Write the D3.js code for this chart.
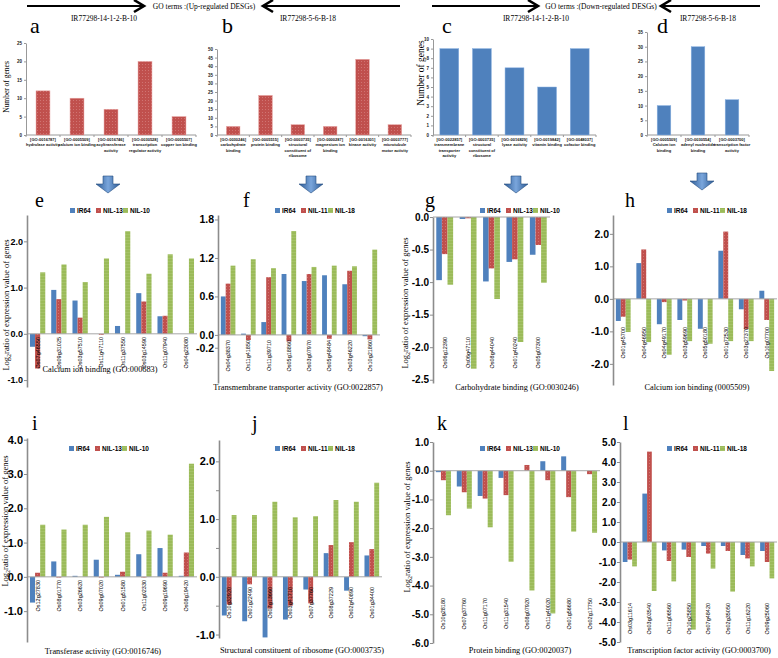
<!DOCTYPE html>
<html>
<head>
<meta charset="utf-8">
<script src="https://cdn.jsdelivr.net/npm/d3@7"></script>
<style>
  body { margin: 0; background: #fff; }
</style>
</head>
<body>
<div id="chart"></div>
<script>
// ---- GO term counts (top row) ----
const aTerms = ["[GO:0016787]|hydrolase activity", "[GO:0005509]|calcium ion binding", "[GO:0016746]|acyltransferase|activity", "[GO:0030528]|transcription|regulator activity", "[GO:0005507]|copper ion binding"];
const aCounts = [12, 10, 7, 20, 5];
const bTerms = ["[GO:0030246]|carbohydrate|binding", "[GO:0005515]|protein binding", "[GO:0003735]|structural|constituent of|ribosome", "[GO:0000287]|magnesium ion|binding", "[GO:0016301]|kinase activity", "[GO:0003777]|microtubule|motor activity"];
const bCounts = [5, 23, 6, 5, 44, 6];
const cTerms = ["[GO:0022857]|transmembrane|transporter|activity", "[GO:0003735]|structural|constituent of|ribosome", "[GO:0016829]|lyase activity", "[GO:0019842]|vitamin binding", "[GO:0048037]|cofactor binding"];
const cCounts = [9, 9, 7, 5, 9];
const dTerms = ["[GO:0005509]|Calcium ion|binding", "[GO:0030554]|adenyl nucleotide|binding", "[GO:0003700]|transcription factor|activity"];
const dCounts = [10, 30, 12];

// ---- log2 expression ratios (bottom rows) ----
const seriesA = ["IR64", "NIL-13", "NIL-10"];
const seriesB = ["IR64", "NIL-11", "NIL-18"];

const eGenes = ["Os07g46550", "Os09g31025", "Os03g57510", "Os11g47110", "Os11g37550", "Os03g14590", "Os11g07940", "Os04g23080"];
const eIR64 = [-0.28, 0.95, 0.72, 0.0, 0.17, 0.88, 0.38, 0.0];
const eNIL13 = [-0.75, 0.75, 0.35, -0.02, 0.0, 0.70, 0.39, 0.0];
const eNIL10 = [1.33, 1.50, 1.12, 1.63, 2.22, 1.30, 1.72, 1.63];

const fGenes = ["Os04g38370", "Os11g41850", "Os11g39710", "Os05g18860", "Os03g07970", "Os05g48484", "Os03g46220", "Os10g21860"];
const fIR64 = [0.60, 0.02, 0.20, 0.95, 0.84, 0.93, 0.79, -0.02];
const fNIL11 = [0.80, -0.08, 0.90, -0.10, 0.95, -0.06, 1.00, -0.07];
const fNIL18 = [1.08, 1.18, 1.04, 1.62, 1.06, 1.08, 1.07, 1.33];

const gGenes = ["Os06g12390", "Os06g47110", "Os08g44040", "Os01g40240", "Os05g07300"];
const gIR64 = [-0.97, -0.03, -0.99, -0.69, -0.58];
const gNIL13 = [-0.57, -0.02, -0.79, -0.65, -0.43];
const gNIL10 = [-1.04, -2.33, -1.26, -1.92, -1.01];

const hGenes = ["Os01g45700", "Os04g46950", "Os04g49170", "Os03g59690", "Os05g50180", "Os01g72530", "Os03g27370", "Os10g07700"];
const hIR64 = [-0.68, 1.10, -0.78, -0.65, -0.92, 1.48, -0.32, 0.25];
const hNIL11 = [-0.55, 1.52, -0.10, -0.05, 0.0, 2.07, -0.93, -0.65];
const hNIL18 = [-1.02, -1.33, -1.72, -1.30, -1.38, -1.30, -1.30, -2.22];

const iGenes = ["Os12g27830", "Os08g01770", "Os03g26620", "Os09g07020", "Os01g51580", "Os11g02330", "Os09g19690", "Os08g19420"];
const iIR64 = [-0.75, 0.45, 0.03, 0.50, 0.06, 0.66, 0.84, 0.03];
const iNIL13 = [0.12, -0.02, 0.0, -0.02, 0.15, -0.02, 0.12, 0.71];
const iNIL10 = [1.52, 1.38, 1.52, 1.75, 1.30, 1.35, 1.23, 3.30];

const jGenes = ["Os10g32920", "Os01g22490", "Os07g13660", "Os03g41710", "Os07g37760", "Os08g37229", "Os02g40890", "Os01g34400"];
const jIR64 = [-0.67, -0.77, -1.05, -0.74, -0.22, 0.41, -0.24, 0.37];
const jNIL11 = [-0.48, -0.13, -0.55, -0.50, -0.46, 0.55, 0.60, 0.48];
const jNIL18 = [1.07, 1.07, 1.30, 1.03, 1.05, 1.33, 1.30, 1.63];

const kGenes = ["Os10g28180", "Os07g37760", "Os11g07170", "Os11g31540", "Os08g07920", "Os11g40020", "Os01g56680", "Os02g17750"];
const kIR64 = [-0.05, -0.55, -0.88, -0.25, 0.0, 0.33, 0.50, 0.0];
const kNIL13 = [-0.33, -0.75, -0.97, -0.85, 0.20, -0.33, -0.92, -0.12];
const kNIL10 = [-1.55, -1.32, -1.97, -3.17, -4.17, -4.97, -2.12, -2.16];

const lGenes = ["Os03g11614", "Os03g03540", "Os11g06560", "Os10g25850", "Os07g48420", "Os02g35050", "Os11g16220", "Os09g25060"];
const lIR64 = [-1.00, 2.42, -0.42, -0.38, -0.20, -0.20, -0.65, -0.45];
const lNIL11 = [-0.88, 4.52, -0.95, -0.75, -0.58, -0.45, -0.82, -1.00];
const lNIL18 = [-1.22, -2.45, -1.97, -4.38, -1.33, -2.48, -1.22, -1.82];

const serif = "'Liberation Serif', 'DejaVu Serif', serif";
const sans = "'Liberation Sans', Arial, sans-serif";

const svg = d3.select("#chart").append("svg")
    .attr("width", 778)
    .attr("height", 658)
    .style("display", "block");

// fills
const defs = svg.append("defs");
const redPat = defs.append("pattern").attr("id", "redDots")
    .attr("width", 3).attr("height", 3).attr("patternUnits", "userSpaceOnUse");
redPat.append("rect").attr("width", 3).attr("height", 3).attr("fill", "#c0504d");
redPat.append("circle").attr("cx", 1.5).attr("cy", 1.5).attr("r", 0.5).attr("fill", "#d6807e");
const greenPat = defs.append("pattern").attr("id", "greenLines")
    .attr("width", 3).attr("height", 3).attr("patternUnits", "userSpaceOnUse");
greenPat.append("rect").attr("width", 3).attr("height", 3).attr("fill", "#9bbb59");
greenPat.append("rect").attr("width", 3).attr("height", 0.7).attr("fill", "#a9c56f");
const arrowGrad = defs.append("linearGradient").attr("id", "arrowGrad");
arrowGrad.selectAll("stop")
    .data([{o: "0%", c: "#2c5a94"}, {o: "50%", c: "#7aa6dc"}, {o: "100%", c: "#2c5a94"}])
    .enter().append("stop")
    .attr("offset", d => d.o)
    .attr("stop-color", d => d.c);

const seriesFill = ["#4f81bd", "url(#redDots)", "url(#greenLines)"];

// ---- header arrows ----
function lineArrow(from, to, y) {
    const dir = to > from ? 1 : -1;
    svg.append("line").attr("x1", from).attr("x2", to).attr("y1", y).attr("y2", y)
        .attr("stroke", "#000").attr("stroke-width", 2);
    svg.append("polyline")
        .attr("points", `${to - dir * 10},${y - 6} ${to},${y} ${to - dir * 10},${y + 6}`)
        .attr("fill", "none").attr("stroke", "#000").attr("stroke-width", 2.6);
}
lineArrow(27, 144, 6);
lineArrow(400, 263, 6);
lineArrow(432, 538, 6);
lineArrow(760, 661, 6);

svg.append("text").attr("x", 204).attr("y", 9).attr("text-anchor", "middle")
    .attr("font-family", serif).attr("font-size", 7.5)
    .text("GO terms :(Up-regulated DESGs)");
svg.append("text").attr("x", 601).attr("y", 9).attr("text-anchor", "middle")
    .attr("font-family", serif).attr("font-size", 7.5)
    .text("GO terms :(Down-regulated DESGs)");

// ---- count panels ----
function countPanel(cfg) {
    const g = svg.append("g");
    const n = cfg.terms.length;
    const x = d3.scaleBand().domain(d3.range(n)).range([cfg.x0, cfg.x1])
        .paddingInner(cfg.pad).paddingOuter(cfg.pad / 2);
    const y = d3.scaleLinear().domain([0, cfg.max]).range([135, cfg.yTop]);

    // title + letter
    g.append("text").attr("x", cfg.titleX).attr("y", 21).attr("text-anchor", "middle")
        .attr("font-family", serif).attr("font-size", 7.5).text(cfg.title);
    g.append("text").attr("x", cfg.letterX).attr("y", 33)
        .attr("font-family", serif).attr("font-size", 22).text(cfg.letter);

    const ax = g.append("g").attr("transform", `translate(${cfg.x0},0)`)
        .call(d3.axisLeft(y).tickValues(d3.range(0, cfg.max + 1, cfg.step))
            .tickSize(2).tickSizeOuter(0).tickPadding(2));
    ax.select(".domain").attr("stroke", "#999");
    ax.selectAll(".tick line").attr("stroke", "#999");
    ax.selectAll(".tick text").attr("font-family", sans).attr("font-weight", "bold")
        .attr("font-size", 4.5).attr("fill", "#222");

    // x axis
    g.append("line").attr("x1", cfg.x0).attr("x2", cfg.x1).attr("y1", 135).attr("y2", 135)
        .attr("stroke", "#999");
    g.selectAll(".xt").data(d3.range(n + 1)).enter().append("line")
        .attr("x1", i => cfg.x0 + i * x.step()).attr("x2", i => cfg.x0 + i * x.step())
        .attr("y1", 135).attr("y2", 137).attr("stroke", "#999");

    g.selectAll(".bar").data(cfg.counts).enter().append("rect")
        .attr("x", (d, i) => x(i))
        .attr("y", d => y(d))
        .attr("width", x.bandwidth())
        .attr("height", d => y(0) - y(d))
        .attr("fill", cfg.fill)
        .attr("stroke", cfg.edge).attr("stroke-width", 0.5);

    const lab = g.selectAll(".xl").data(cfg.terms).enter().append("text")
        .attr("text-anchor", "middle")
        .attr("font-family", sans).attr("font-weight", "bold")
        .attr("font-size", 4.0).attr("fill", "#111");
    lab.each(function(d, i) {
        const t = d3.select(this);
        d.split("|").forEach((s, k) => {
            t.append("tspan").attr("x", x(i) + x.bandwidth() / 2)
                .attr("y", 141 + k * 5.3).text(s);
        });
    });

    if (cfg.ylabel) {
        g.append("text")
            .attr("transform", `translate(${cfg.ylabelX},${cfg.ylabelY}) rotate(-90)`)
            .attr("text-anchor", "middle")
            .attr("font-family", serif).attr("font-size", cfg.ylabelSize)
            .text("Number of genes");
    }
}

countPanel({terms: aTerms, counts: aCounts, x0: 26, x1: 196, yTop: 43, max: 25, step: 5, pad: 0.59,
    fill: "url(#redDots)", edge: "#e8a6a4", title: "IR77298-14-1-2-B-10", titleX: 104, letter: "a", letterX: 30,
    ylabel: true, ylabelX: 9, ylabelY: 87, ylabelSize: 7.5});
countPanel({terms: bTerms, counts: bCounts, x0: 217, x1: 411, yTop: 49, max: 50, step: 5, pad: 0.58,
    fill: "url(#redDots)", edge: "#e8a6a4", title: "IR77298-5-6-B-18", titleX: 308, letter: "b", letterX: 222});
countPanel({terms: cTerms, counts: cCounts, x0: 433, x1: 596, yTop: 39, max: 10, step: 1, pad: 0.42,
    fill: "#4f81bd", edge: "#8db3e2", title: "IR77298-14-1-2-B-10", titleX: 536, letter: "c", letterX: 442,
    ylabel: true, ylabelX: 424, ylabelY: 73, ylabelSize: 9.5});
countPanel({terms: dTerms, counts: dCounts, x0: 647, x1: 749, yTop: 32, max: 35, step: 5, pad: 0.6,
    fill: "#4f81bd", edge: "#8db3e2", title: "IR77298-5-6-B-18", titleX: 708, letter: "d", letterX: 657});

// ---- block arrows ----
function blockArrow(cx, y0) {
    svg.append("path")
        .attr("d", `M${cx - 5},${y0} h10 v8 h7 L${cx},${y0 + 17} L${cx - 12},${y0 + 8} h7 Z`)
        .attr("fill", "url(#arrowGrad)").attr("stroke", "#264f82").attr("stroke-width", 0.6);
}
blockArrow(108, 176);
blockArrow(311, 176);
blockArrow(516, 176);
blockArrow(702, 173);

// ---- expression panels ----
function exprPanel(cfg) {
    const g = svg.append("g");
    const n = cfg.genes.length;
    const x = d3.scaleBand().domain(d3.range(n)).range([cfg.x0, cfg.x1])
        .paddingInner(0.28).paddingOuter(0.14);
    const xs = d3.scaleBand().domain(d3.range(3)).range([0, x.bandwidth()]);
    const y = d3.scaleLinear().domain(cfg.domain).range([cfg.yBottom, cfg.yTop]);

    g.append("text").attr("x", cfg.letterX).attr("y", cfg.letterY)
        .attr("font-family", serif).attr("font-size", 20).text(cfg.letter);

    // bars
    cfg.series.forEach((vals, s) => {
        g.selectAll(".b" + s).data(vals).enter().append("rect")
            .attr("x", (d, i) => x(i) + xs(s))
            .attr("y", d => y(Math.max(0, d)))
            .attr("width", xs.bandwidth())
            .attr("height", d => Math.abs(y(d) - y(0)))
            .attr("fill", seriesFill[s]);
    });

    // zero line
    g.append("line").attr("x1", cfg.x0).attr("x2", cfg.x1)
        .attr("y1", y(0)).attr("y2", y(0))
        .attr("stroke", "#a6a6a6").attr("stroke-width", 1);

    const ax = g.append("g").attr("transform", `translate(${cfg.x0},0)`)
        .call(d3.axisLeft(y).tickValues(cfg.ticks)
            .tickFormat(d => cfg.labelled.includes(d) ? d.toFixed(1) : "")
            .tickSize(3).tickSizeOuter(0).tickPadding(1));
    ax.select(".domain").attr("stroke", "#8c8c8c").attr("stroke-width", 1.6);
    ax.selectAll(".tick line").attr("stroke", "#8c8c8c");
    ax.selectAll(".tick text").attr("font-family", sans).attr("font-weight", "bold")
        .attr("font-size", cfg.tickFont).attr("fill", "#000");

    // gene labels
    g.selectAll(".gl").data(cfg.genes).enter().append("text")
        .attr("transform", (d, i) => `translate(${x(i) + x.bandwidth() / 2 + 2},${cfg.labelTop}) rotate(-90)`)
        .attr("text-anchor", "end")
        .attr("font-family", sans).attr("font-size", 5.5).attr("fill", "#000")
        .text(d => d);

    // legend
    const lg = g.append("g").attr("transform", `translate(${cfg.legendX},${cfg.legendY})`);
    cfg.names.forEach((nm, s) => {
        const ox = [0, 26, 53][s];
        lg.append("rect").attr("x", ox).attr("y", -4).attr("width", 5).attr("height", 5)
            .attr("fill", seriesFill[s]);
        lg.append("text").attr("x", ox + 7).attr("y", 1)
            .attr("font-family", sans).attr("font-weight", "bold").attr("font-size", 6.5)
            .text(nm);
    });

    g.append("text").attr("x", cfg.titleX).attr("y", cfg.titleY).attr("text-anchor", "middle")
        .attr("font-family", serif).attr("font-size", 8.3).text(cfg.title);

    if (cfg.ylabelX !== undefined) {
        const t = g.append("text")
            .attr("transform", `translate(${cfg.ylabelX},${cfg.ylabelY}) rotate(-90)`)
            .attr("text-anchor", "middle")
            .attr("font-family", serif).attr("font-size", 8.5);
        t.append("tspan").text("Log");
        t.append("tspan").attr("font-size", 6).attr("dy", 2).text("2");
        t.append("tspan").attr("dy", -2).text("ratio of expression value of genes");
    }
}

exprPanel({genes: eGenes, series: [eIR64, eNIL13, eNIL10], names: seriesA, letter: "e", letterX: 35, letterY: 207,
    x0: 27, x1: 197, domain: [-1.15, 2.57], yBottom: 387, yTop: 215, ticks: [2, 1, 0, -1], labelled: [2, 1, 0, -1],
    tickFont: 9, labelTop: 337, legendX: 70, legendY: 212, title: "Calcium ion binding (GO:000683)", titleX: 100, titleY: 372,
    ylabelX: 9, ylabelY: 305});
exprPanel({genes: fGenes, series: [fIR64, fNIL11, fNIL18], names: seriesB, letter: "f", letterX: 243, letterY: 207,
    x0: 218, x1: 380, domain: [-0.75, 1.87], yBottom: 383, yTop: 215, ticks: [1.8, 1.2, 0.6, 0, -0.2], labelled: [1.8, 1.2, 0.6, 0, -0.2],
    tickFont: 10.5, labelTop: 340, legendX: 275, legendY: 212, title: "Transmembrane transporter activity  (GO:0022857)", titleX: 298, titleY: 390});
exprPanel({genes: gGenes, series: [gIR64, gNIL13, gNIL10], names: seriesA, letter: "g", letterX: 425, letterY: 207,
    x0: 433, x1: 550, domain: [-2.55, 0], yBottom: 383, yTop: 217, ticks: [0, -0.5, -1, -1.5, -2, -2.5], labelled: [0, -0.5, -1, -1.5, -2, -2.5],
    tickFont: 10, labelTop: 337, legendX: 480, legendY: 212, title: "Carbohydrate binding (GO:0030246)", titleX: 517, titleY: 390,
    ylabelX: 408, ylabelY: 303});
exprPanel({genes: hGenes, series: [hIR64, hNIL11, hNIL18], names: seriesB, letter: "h", letterX: 625, letterY: 207,
    x0: 613, x1: 777, domain: [-2.65, 2.58], yBottom: 385, yTop: 215, ticks: [2, 1, 0, -1, -2], labelled: [2, 1, 0, -1, -2],
    tickFont: 10.5, labelTop: 327, legendX: 667, legendY: 212, title: "Calcium ion binding (0005509)", titleX: 697, titleY: 390});
exprPanel({genes: iGenes, series: [iIR64, iNIL13, iNIL10], names: seriesA, letter: "i", letterX: 32, letterY: 430,
    x0: 27, x1: 197, domain: [-1.9, 4.05], yBottom: 642, yTop: 438, ticks: [4, 3, 2, 1, 0, -1], labelled: [4, 3, 2, 1, 0, -1],
    tickFont: 11, labelTop: 580, legendX: 69, legendY: 450, title: "Transferase activity  (GO:0016746)", titleX: 103, titleY: 654,
    ylabelX: 8, ylabelY: 521});
exprPanel({genes: jGenes, series: [jIR64, jNIL11, jNIL18], names: seriesB, letter: "j", letterX: 252, letterY: 430,
    x0: 219, x1: 382, domain: [-1.06, 2.37], yBottom: 638, yTop: 440, ticks: [2, 1.5, 1, 0.5, 0, -0.5, -1], labelled: [2, 1, 0, -1],
    tickFont: 11, labelTop: 587, legendX: 275, legendY: 450, title: "Structural constituent of ribosome (GO:0003735)", titleX: 302, titleY: 653});
exprPanel({genes: kGenes, series: [kIR64, kNIL13, kNIL10], names: seriesA, letter: "k", letterX: 437, letterY: 430,
    x0: 433, x1: 600, domain: [-6, 1], yBottom: 643, yTop: 442, ticks: [1, 0, -1, -2, -3, -4, -5, -6], labelled: [1, 0, -1, -2, -3, -4, -5, -6],
    tickFont: 10, labelTop: 598, legendX: 480, legendY: 450, title: "Protein binding (GO:0020037)", titleX: 520, titleY: 653,
    ylabelX: 410, ylabelY: 527});
exprPanel({genes: lGenes, series: [lIR64, lNIL11, lNIL18], names: seriesB, letter: "l", letterX: 623, letterY: 430,
    x0: 620, x1: 777, domain: [-5, 5], yBottom: 642, yTop: 442, ticks: [5, 4, 3, 2, 1, 0, -1, -2, -3, -4, -5], labelled: [5, 4, 3, 2, 1, 0, -1, -2, -3, -4, -5],
    tickFont: 10, labelTop: 603, legendX: 667, legendY: 450, title: "Transcription factor activity (GO:0003700)", titleX: 699, titleY: 653});
</script>
</body>
</html>
